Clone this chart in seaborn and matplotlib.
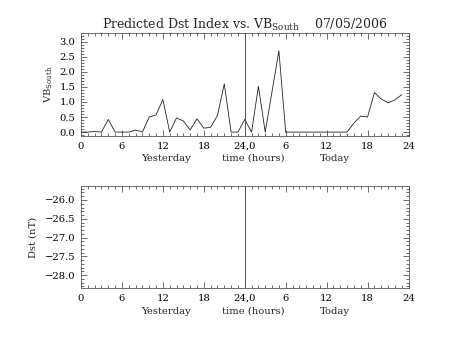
import numpy as np
import pandas as pd
import matplotlib
matplotlib.use("Agg")
import matplotlib.pyplot as plt
from matplotlib.ticker import MultipleLocator
import seaborn as sns

# ---- data ----
hours = list(range(48))
vb_south = [0.0, 0.0, 0.02, 0.0, 0.42, 0.0, 0.0, 0.0, 0.07, 0.0,
            0.5, 0.57, 1.08, 0.0, 0.47, 0.37, 0.07, 0.44, 0.13, 0.16,
            0.55, 1.6, 0.0, 0.0, 0.42, 0.0, 1.52, 0.0, 1.35, 2.7,
            0.0, 0.0, 0.0, 0.0, 0.0, 0.0, 0.0, 0.0, 0.0, 0.0,
            0.3, 0.53, 0.5, 1.31, 1.1, 0.97, 1.07, 1.24]
x_ticks = [0, 6, 12, 18, 24, 30, 36, 42, 48]
x_tick_labels = ["0", "6", "12", "18", "24,0", "6", "12", "18", "24"]
vb_ticks = [0.0, 0.5, 1.0, 1.5, 2.0, 2.5, 3.0]
dst_ticks = [-26.0, -26.5, -27.0, -27.5, -28.0]
title = "Predicted Dst Index vs. VB$_{\\mathrm{South}}$    07/05/2006"
day_labels = ["Yesterday", "time (hours)", "Today"]

sns.set_style("ticks")
plt.rcParams["font.family"] = ["DejaVu Serif"]
plt.rcParams["mathtext.fontset"] = "dejavuserif"

fig = plt.figure(figsize=(4.53, 3.40), dpi=100)
ax1 = fig.add_axes([0.1788, 0.600, 0.723, 0.3029])
ax2 = fig.add_axes([0.1788, 0.152, 0.723, 0.3018])

df = pd.DataFrame({"hour": hours, "vb": vb_south})
sns.lineplot(data=df, x="hour", y="vb", ax=ax1, color="#222222", linewidth=0.6)

fs = 7.2
for ax, ypos in ((ax1, -0.24), (ax2, -0.25)):
    ax.set_xlim(0, 48)
    ax.set_xticks(x_ticks)
    ax.set_xticklabels(x_tick_labels, fontsize=fs)
    ax.xaxis.set_minor_locator(MultipleLocator(1))
    ax.yaxis.set_minor_locator(MultipleLocator(0.1))
    ax.tick_params(which="both", direction="in", top=True, right=True,
                   width=0.5, colors="#333333", labelcolor="black", pad=4)
    ax.tick_params(which="major", length=4)
    ax.tick_params(which="minor", length=2)
    for s in ax.spines.values():
        s.set_linewidth(0.6)
        s.set_color("#555555")
    ax.axvline(24, color="#555555", linewidth=0.7)
    ax.set_xlabel("")
    for xpos, lab in zip([12.5, 25.2, 37.2], day_labels):
        ax.text(xpos, ypos, lab, transform=ax.get_xaxis_transform(),
                ha="center", va="baseline", fontsize=fs)

ax1.set_ylim(-0.13, 3.29)
ax1.set_yticks(vb_ticks)
ax1.set_yticklabels([f"{v:.1f}" for v in vb_ticks], fontsize=fs)
ax1.set_ylabel("VB$_{\\mathrm{South}}$", fontsize=fs, labelpad=3)
ax1.set_title(title, fontsize=9, pad=2.5)

ax2.set_ylim(-28.35, -25.62)
ax2.set_yticks(dst_ticks)
ax2.set_yticklabels([f"{v:.1f}".replace("-", "\u2212") for v in dst_ticks], fontsize=fs)
ax2.set_ylabel("Dst (nT)", fontsize=fs, labelpad=5)

fig.savefig("out.png", dpi=100)
